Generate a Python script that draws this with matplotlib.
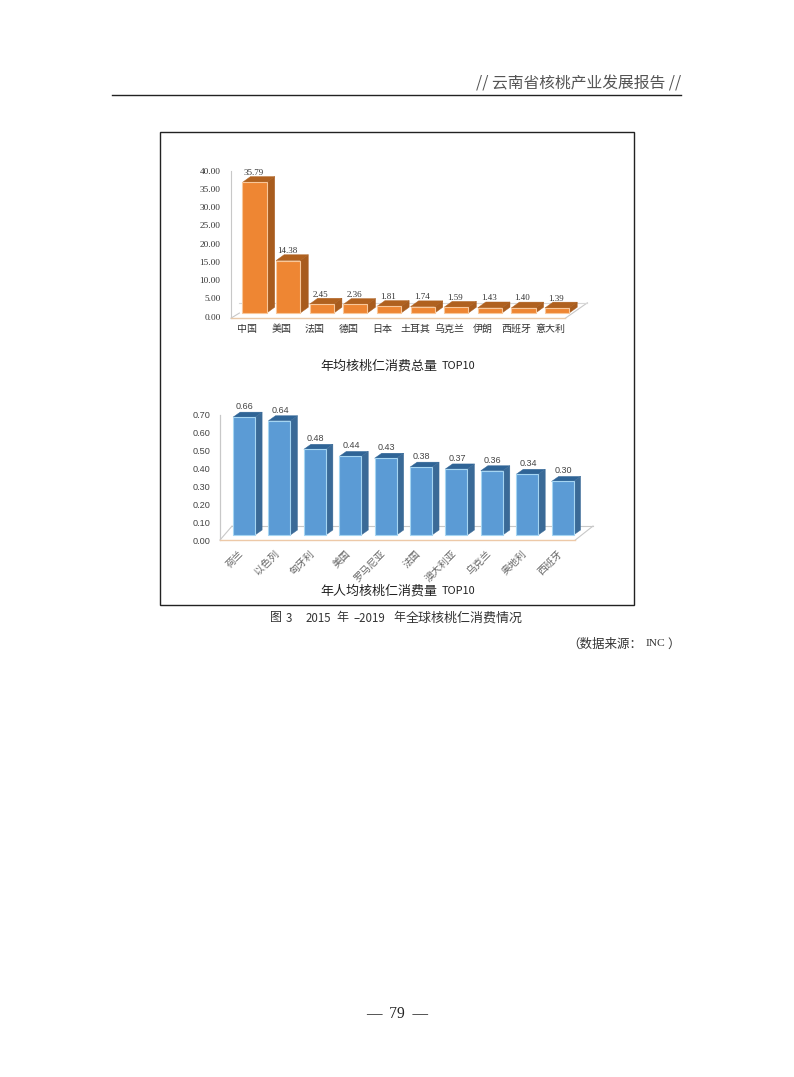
import matplotlib
matplotlib.use("Agg")
import matplotlib.pyplot as plt
from matplotlib.patches import Polygon

# data
cats_total = ["中国", "美国", "法国", "德国", "日本", "土耳其", "乌克兰", "伊朗", "西班牙", "意大利"]
vals_total = [35.79, 14.38, 2.45, 2.36, 1.81, 1.74, 1.59, 1.43, 1.40, 1.39]
ticks_total = [0, 5, 10, 15, 20, 25, 30, 35, 40]

cats_capita = ["荷兰", "以色列", "匈牙利", "美国", "罗马尼亚", "法国", "澳大利亚", "乌克兰", "奥地利", "西班牙"]
vals_capita = [0.66, 0.64, 0.48, 0.44, 0.43, 0.38, 0.37, 0.36, 0.34, 0.30]
ticks_capita = [0, 0.1, 0.2, 0.3, 0.4, 0.5, 0.6, 0.7]

W, H = 794, 1077
CJK = ["Noto Sans CJK SC", "DejaVu Sans"]
plt.rcParams["font.family"] = CJK


def px(size):
    return size * 72 / 100


def add_axes(left, right, top, bottom):
    ax = fig.add_axes([left / W, 1 - bottom / H, (right - left) / W, (bottom - top) / H])
    ax.patch.set_alpha(0)
    for s in ax.spines.values():
        s.set_visible(False)
    return ax


def page_text(x, y, s, size, color="#333333", ha="left", family=None):
    fig.text(x / W, 1 - y / H, s, ha=ha, va="center", fontsize=px(size), color=color,
             family=family if family else CJK)


def bars_3d(ax, vals, lift, width, dx, dy, front, top, side, edge):
    xs = range(len(vals))
    ax.bar(xs, vals, width=width, bottom=lift, color=front, edgecolor=edge, linewidth=0.8, zorder=3)
    for x, v in zip(xs, vals):
        x0, x1 = x - width / 2, x + width / 2
        y0, y1 = lift, lift + v
        ax.add_patch(Polygon([(x0, y1), (x1, y1), (x1 + dx, y1 + dy), (x0 + dx, y1 + dy)],
                             facecolor=top, edgecolor=top, linewidth=0.3, zorder=2, clip_on=False))
        ax.add_patch(Polygon([(x1, y0), (x1, y1), (x1 + dx, y1 + dy), (x1 + dx, y0 + dy)],
                             facecolor=side, edgecolor=side, linewidth=0.3, zorder=2, clip_on=False))


fig = plt.figure(figsize=(W / 100, H / 100), dpi=100)

# frame around the two charts
fig.add_artist(plt.Rectangle((160 / W, 1 - 605 / H), 474 / W, 473 / H, fill=False,
                             edgecolor="#222222", linewidth=1.0))

# header
page_text(681, 84, "// 云南省核桃产业发展报告 //", 15.8, color="#555555", ha="right")
fig.add_artist(plt.Line2D([112 / W, 681 / W], [1 - 95 / H, 1 - 95 / H], color="#222222", linewidth=1.0))

# chart 1: yearly total
ax1 = add_axes(231, 590, 170.7, 316.7)
ax1.set_xlim(-0.70, 9.98)
ax1.set_ylim(0, 40)
bars_3d(ax1, vals_total, 1.0, 0.72, 0.24, 1.6, "#EE8633", "#B0611F", "#A85C1E", "#F8C79A")
ax1.set_yticks(ticks_total)
ax1.set_yticklabels([f"{t:.2f}" for t in ticks_total], family="Liberation Serif", fontsize=px(9.3), color="#333333")
ax1.set_xticks([i - 0.21 for i in range(10)])
ax1.set_xticklabels(cats_total, fontsize=px(10), color="#333333")
ax1.tick_params(axis="y", length=0, pad=7.5)
ax1.tick_params(axis="x", length=0, pad=5.5)
ax1.plot([-0.70, -0.70], [-0.4, 40], color="#C8C8C8", linewidth=0.8, clip_on=False)
ax1.plot([-0.70, 9.25], [-0.4, -0.4], color="#E8C8A8", linewidth=1.0, clip_on=False)
ax1.plot([9.25, 9.9], [-0.4, 3.8], color="#C8C8C8", linewidth=0.8, clip_on=False, zorder=1)
ax1.plot([-0.70, -0.45], [-0.4, 1.0], color="#C8C8C8", linewidth=0.8, clip_on=False, zorder=1)
ax1.plot([-0.45, 9.9], [3.8, 3.8], color="#D8D8D8", linewidth=0.8, clip_on=False, zorder=1)
for i, v in enumerate(vals_total):
    ax1.text(i - 0.03, v + 1.0 + 1.6 - 0.1, f"{v:.2f}", ha="center", va="bottom",
             family="Liberation Serif", fontsize=px(9), color="#333333", zorder=4)

page_text(320, 366, "年均核桃仁消费总量", 13, color="#222222")
page_text(442, 366, "TOP10", 11, color="#222222")

# chart 2: per capita
ax2 = add_axes(220, 593, 415, 540)
ax2.set_xlim(-0.68, 9.86)
ax2.set_ylim(0, 0.7)
bars_3d(ax2, vals_capita, 0.028, 0.62, 0.2, 0.028, "#5B9BD5", "#2F6496", "#3A6A97", "#A5D5F2")
ax2.set_yticks(ticks_capita)
ax2.set_yticklabels([f"{t:.2f}" for t in ticks_capita], family="Liberation Sans", fontsize=px(9.2), color="#444444")
ax2.set_xticks([i - 0.15 for i in range(10)])
ax2.set_xticklabels(cats_capita, fontsize=px(10), color="#666666", rotation=45, ha="right", rotation_mode="anchor")
ax2.tick_params(axis="y", length=0, pad=7)
ax2.tick_params(axis="x", length=0, pad=6)
ax2.plot([-0.68, -0.68], [0, 0.7], color="#C8C8C8", linewidth=0.9, clip_on=False)
ax2.plot([-0.68, 9.36], [0, 0], color="#EDC9A8", linewidth=1.0, clip_on=False)
ax2.plot([-0.68, -0.34], [0, 0.078], color="#C8C8C8", linewidth=0.8, clip_on=False, zorder=1)
ax2.plot([-0.34, 9.86], [0.078, 0.078], color="#C8C8C8", linewidth=0.8, clip_on=False, zorder=1)
ax2.plot([9.36, 9.86], [0, 0.078], color="#C8C8C8", linewidth=0.8, clip_on=False, zorder=1)
for i, v in enumerate(vals_capita):
    ax2.text(i + 0.02, v + 0.028 + 0.028 + 0.006, f"{v:.2f}", ha="center", va="bottom",
             family="Liberation Sans", fontsize=px(9), color="#444444", zorder=4)

page_text(320, 591, "年人均核桃仁消费量", 13, color="#222222")
page_text(442, 591, "TOP10", 11, color="#222222")

# caption, set piece by piece because the original is widely spaced
page_text(270, 618, "图", 12)
page_text(286, 618, "3", 11.5)
page_text(306, 618, "2015", 11.5)
page_text(336, 618, "年", 12)
page_text(353, 618, "–2019", 11.5)
page_text(393, 618, "年", 12)
page_text(406, 618, "全球核桃仁消费情况", 13)

# source
page_text(567, 644, "（数据来源：", 12.5)
page_text(646, 644, "INC", 11.5, family="Liberation Serif")
page_text(667, 644, "）", 12.5)

# page number
page_text(397, 1014, "—  79  —", 15.5, color="#222222", ha="center", family="Liberation Serif")

fig.savefig("out.png", dpi=100)
